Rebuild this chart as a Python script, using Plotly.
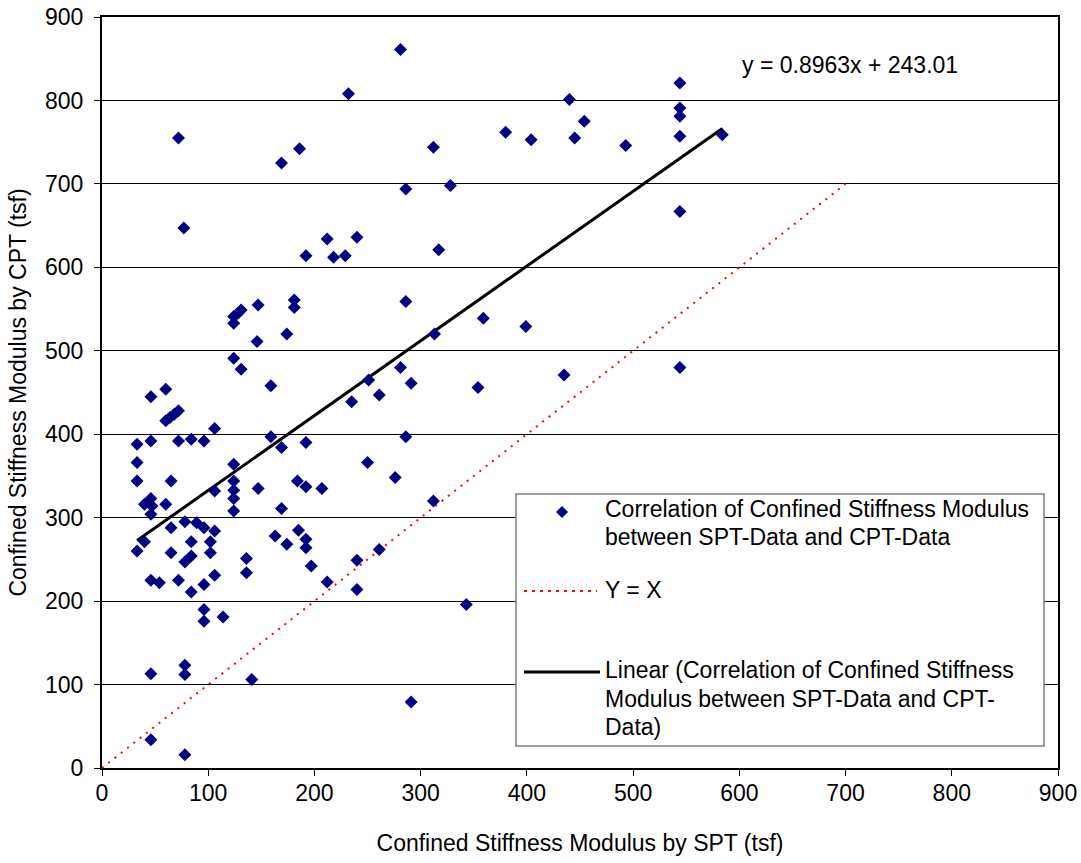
import plotly.graph_objects as go

# ---- data ----
spt = [146, 124, 131, 159, 46, 60, 60, 64, 68, 72, 106, 33, 46, 72, 84, 96, 159, 169,
       33, 124, 33, 65, 124, 106, 124, 124, 147, 184, 46, 40, 46, 47, 60, 124, 169, 185,
       65, 78, 89, 96, 106, 33, 40, 84, 102, 65, 78, 84, 102, 163, 174, 136, 136, 46,
       54, 72, 96, 106, 84, 96, 96, 114, 46, 78, 78, 141, 46, 78,
       72, 77, 169, 186, 212, 192, 218, 229, 232, 124, 128, 131, 147, 124, 181, 181, 174,
       281, 312, 286, 328, 240, 317, 380, 404, 440, 454, 445, 493, 544, 544, 544, 544,
       584, 544, 286, 359, 399, 313,
       281, 251, 291, 261, 235, 354, 192, 286, 250, 276, 192, 207, 312, 192, 192, 197,
       212, 240, 240, 261, 343, 291, 544, 435]
cpt = [511, 491, 478, 458, 445, 454, 416, 420, 424, 428, 407, 388, 392, 392, 394, 392, 397, 384,
       366, 364, 344, 344, 344, 332, 333, 323, 335, 344, 323, 316, 304, 314, 316, 308, 311, 285,
       288, 295, 294, 288, 284, 260, 271, 271, 271, 258, 247, 254, 258, 278, 268, 251, 234, 225,
       222, 225, 220, 231, 211, 190, 176, 181, 113, 123, 112, 106, 34, 16,
       755, 647, 725, 742, 634, 614, 612, 614, 808, 541, 545, 549, 555, 533, 561, 552, 520,
       861, 744, 694, 698, 636, 621, 762, 753, 801, 775, 755, 746, 821, 791, 781, 757,
       759, 667, 559, 539, 529, 520,
       480, 465, 461, 447, 439, 456, 390, 397, 366, 348, 337, 335, 320, 274, 264, 242,
       223, 249, 214, 262, 196, 79, 480, 471]

slope = 0.8963
intercept = 243.01
identity_range = [0, 700]
axis_ticks = list(range(0, 901, 100))

scatter_name = "Correlation of Confined Stiffness Modulus<br>between SPT-Data and CPT-Data"
identity_name = "Y = X"
trend_name = "Linear (Correlation of Confined Stiffness<br>Modulus between SPT-Data and CPT-<br>Data)"
equation_text = "y = 0.8963x + 243.01"

# ---- figure ----
FONT = "Liberation Sans, Arial, sans-serif"
W, H = 1081, 863
X0, X1, YB, YT = 102, 1058, 768, 17


def px_x(p):
    return (p - X0) / (X1 - X0)


def px_y(p):
    return (YB - p) / (YB - YT)


fig = go.Figure()

fig.add_trace(go.Scatter(
    x=identity_range, y=identity_range, mode="lines", name=identity_name,
    line=dict(color="#FF0000", width=2, dash="2px,6px"), showlegend=False,
    hoverinfo="skip"))

xmin, xmax = min(spt), max(spt)
fig.add_trace(go.Scatter(
    x=[xmin, xmax], y=[slope * xmin + intercept, slope * xmax + intercept],
    mode="lines", name=trend_name, line=dict(color="black", width=3),
    showlegend=False))

fig.add_trace(go.Scatter(
    x=spt, y=cpt, mode="markers", name=scatter_name,
    marker=dict(symbol="diamond", size=10, color="#000080"),
    showlegend=False))

# ---- custom legend (box, symbols, texts) ----
shapes = []
annotations = []
shapes.append(dict(type="rect", xref="paper", yref="paper",
                   x0=px_x(516), x1=px_x(1044), y0=px_y(746), y1=px_y(494),
                   line=dict(color="#808080", width=1.5), fillcolor="white",
                   layer="above"))
# diamond symbol
cx, cy, r = 562, 512, 6
path = "M {} {} L {} {} L {} {} L {} {} Z".format(
    px_x(cx), px_y(cy - r), px_x(cx + r), px_y(cy), px_x(cx), px_y(cy + r),
    px_x(cx - r), px_y(cy))
shapes.append(dict(type="path", xref="paper", yref="paper", path=path,
                   fillcolor="#000080", line=dict(color="#000080", width=0),
                   layer="above"))
shapes.append(dict(type="line", xref="paper", yref="paper",
                   x0=px_x(524), x1=px_x(597), y0=px_y(591), y1=px_y(591),
                   line=dict(color="#FF0000", width=2, dash="3px,5px"),
                   layer="above"))
shapes.append(dict(type="line", xref="paper", yref="paper",
                   x0=px_x(524), x1=px_x(600), y0=px_y(672), y1=px_y(672),
                   line=dict(color="black", width=3), layer="above"))

legend_lines = [
    ("Correlation of Confined Stiffness Modulus", 509),
    ("between SPT-Data and CPT-Data", 537),
    ("Y = X", 590),
    ("Linear (Correlation of Confined Stiffness", 670),
    ("Modulus between SPT-Data and CPT-", 699),
    ("Data)", 727),
]
for txt, yc in legend_lines:
    annotations.append(dict(text=txt, xref="paper", yref="paper",
                            x=px_x(603), y=px_y(yc), xanchor="left",
                            yanchor="middle", showarrow=False,
                            font=dict(family=FONT, size=23, color="black")))

annotations.append(dict(text=equation_text, xref="paper", yref="paper",
                        x=px_x(740), y=px_y(65), xanchor="left", yanchor="middle",
                        showarrow=False,
                        font=dict(family=FONT, size=23, color="black")))

fig.update_layout(
    width=W, height=H,
    margin=dict(l=X0, r=W - X1, t=YT, b=H - YB, pad=0, autoexpand=False),
    paper_bgcolor="white", plot_bgcolor="white",
    font=dict(family=FONT, size=23, color="black"),
    shapes=shapes, annotations=annotations,
    showlegend=False,
)
fig.update_xaxes(
    range=[0, 900], tickvals=axis_ticks, ticks="outside", ticklen=6,
    tickcolor="black", showline=True, linecolor="black", linewidth=2,
    mirror=True, showgrid=False, zeroline=False, automargin=False,
    tickfont=dict(family=FONT, size=23), ticklabelstandoff=-3,
    title=dict(text="Confined Stiffness Modulus by SPT (tsf)",
               font=dict(family=FONT, size=23), standoff=30),
)
fig.update_yaxes(
    range=[0, 900], tickvals=axis_ticks, ticks="outside", ticklen=6,
    tickcolor="black", showline=True, linecolor="black", linewidth=2,
    mirror=True, showgrid=True, gridcolor="black", gridwidth=1,
    zeroline=False, automargin=False,
    tickfont=dict(family=FONT, size=23), ticklabelstandoff=6,
    title=dict(text="Confined Stiffness Modulus by CPT (tsf)",
               font=dict(family=FONT, size=23), standoff=12),
)

fig.write_html("out.html")
